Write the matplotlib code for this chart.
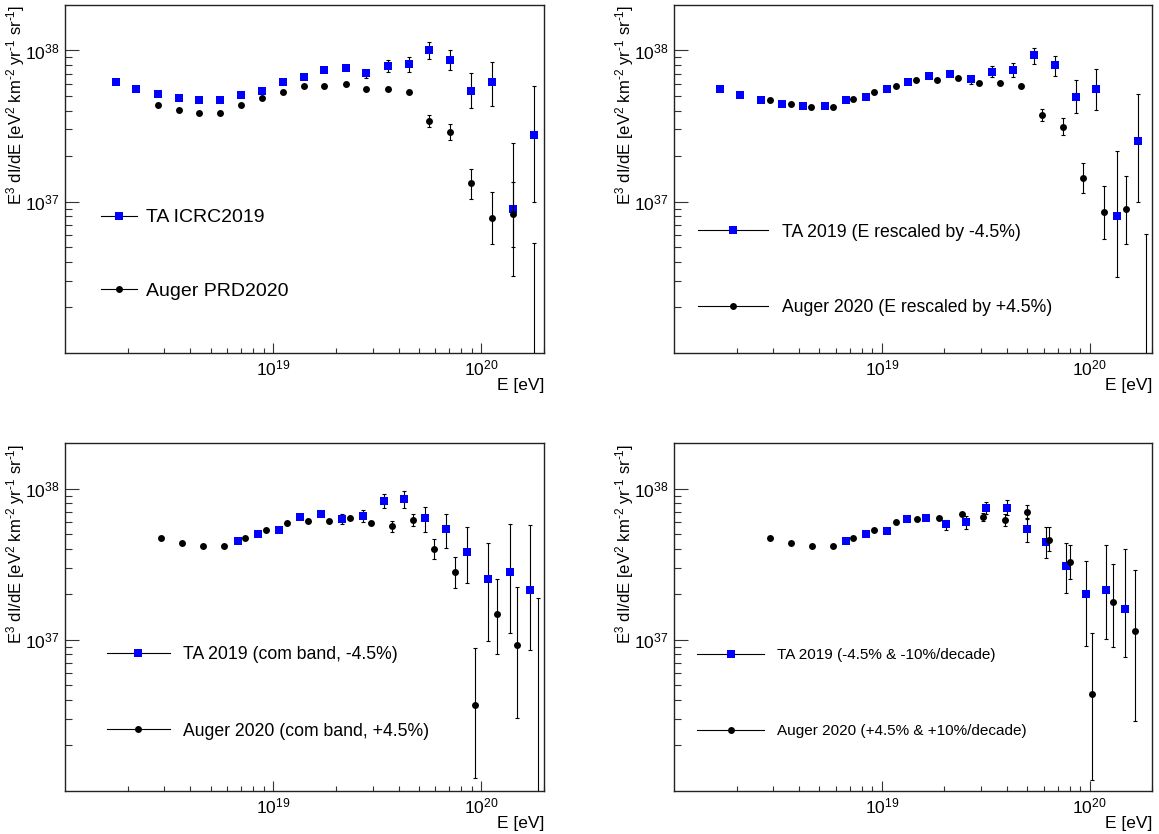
import matplotlib
matplotlib.use('Agg')
import matplotlib.pyplot as plt
from matplotlib.lines import Line2D
from matplotlib.ticker import FixedLocator, FuncFormatter, NullFormatter
import numpy as np

plt.rcParams['font.family'] = ['Liberation Sans', 'DejaVu Sans']
plt.rcParams['mathtext.fontset'] = 'custom'
plt.rcParams['mathtext.rm'] = 'Liberation Sans'
plt.rcParams['mathtext.it'] = 'Liberation Sans:italic'
plt.rcParams['mathtext.default'] = 'regular'

# ---- panel 1: TA ICRC2019 / Auger PRD2020 (E in eV, E^3 J in eV^2 km^-2 yr^-1 sr^-1) ----
ta1_E = [1.75e18, 2.20e18, 2.79e18, 3.52e18, 4.42e18, 5.56e18, 7.00e18, 8.83e18, 1.117e19, 1.406e19,
         1.762e19, 2.228e19, 2.805e19, 3.548e19, 4.467e19, 5.623e19, 7.079e19, 8.913e19, 1.127e20, 1.426e20, 1.795e20]
ta1_J = [6.14e37, 5.57e37, 5.16e37, 4.88e37, 4.71e37, 4.71e37, 5.08e37, 5.41e37, 6.14e37, 6.70e37,
         7.38e37, 7.61e37, 7.05e37, 7.91e37, 8.16e37, 1.01e38, 8.71e37, 5.41e37, 6.14e37, 8.9e36, 2.74e37]
ta1_lo = [6.14e37, 5.57e37, 5.16e37, 4.88e37, 4.71e37, 4.71e37, 5.08e37, 5.41e37, 6.14e37, 6.70e37,
          7.38e37, 7.61e37, 6.56e37, 7.26e37, 7.23e37, 8.81e37, 7.38e37, 4.15e37, 4.31e37, 4.99e36, 1.00e37]
ta1_hi = [6.14e37, 5.57e37, 5.16e37, 4.88e37, 4.71e37, 4.71e37, 5.08e37, 5.41e37, 6.14e37, 6.70e37,
          7.38e37, 7.61e37, 7.45e37, 8.59e37, 9.03e37, 1.135e38, 1.01e38, 7.08e37, 8.33e37, 1.34e37, 5.83e37]
au1_E = [2.79e18, 3.52e18, 4.42e18, 5.56e18, 7.00e18, 8.83e18, 1.117e19, 1.406e19, 1.762e19, 2.228e19,
         2.805e19, 3.548e19, 4.467e19, 5.623e19, 7.079e19, 8.913e19, 1.127e20, 1.426e20, 1.795e20]
au1_J = [4.35e37, 4.05e37, 3.83e37, 3.83e37, 4.35e37, 4.83e37, 5.35e37, 5.81e37, 5.81e37, 5.96e37,
         5.57e37, 5.57e37, 5.32e37, 3.44e37, 2.88e37, 1.32e37, 7.8e36, 8.3e36, 5.0e35]
au1_lo = [4.35e37, 4.05e37, 3.83e37, 3.83e37, 4.35e37, 4.83e37, 5.35e37, 5.81e37, 5.81e37, 5.96e37,
          5.57e37, 5.57e37, 5.32e37, 3.14e37, 2.54e37, 1.04e37, 5.25e36, 3.24e36, 1.0e35]
au1_hi = [4.35e37, 4.05e37, 3.83e37, 3.83e37, 4.35e37, 4.83e37, 5.35e37, 5.81e37, 5.81e37, 5.96e37,
          5.57e37, 5.57e37, 5.32e37, 3.75e37, 3.27e37, 1.64e37, 1.15e37, 2.43e37, 5.35e36]

# ---- panel 2: energy rescaled by -4.5% / +4.5% ----
ta2_E = [1.663e18, 2.089e18, 2.636e18, 3.319e18, 4.198e18, 5.309e18, 6.714e18, 8.375e18, 1.059e19, 1.334e19,
         1.687e19, 2.138e19, 2.692e19, 3.381e19, 4.266e19, 5.370e19, 6.792e19, 8.590e19, 1.076e20, 1.355e20, 1.714e20]
ta2_J = [5.57e37, 5.08e37, 4.71e37, 4.44e37, 4.31e37, 4.26e37, 4.67e37, 4.95e37, 5.57e37, 6.14e37,
         6.73e37, 6.94e37, 6.43e37, 7.26e37, 7.38e37, 9.27e37, 7.96e37, 4.95e37, 5.59e37, 8.08e36, 2.50e37]
ta2_lo = [5.57e37, 5.08e37, 4.71e37, 4.44e37, 4.31e37, 4.26e37, 4.67e37, 4.95e37, 5.57e37, 6.14e37,
          6.73e37, 6.94e37, 6.01e37, 6.66e37, 6.66e37, 8.16e37, 6.73e37, 3.83e37, 4.03e37, 3.18e36, 9.9e36]
ta2_hi = [5.57e37, 5.08e37, 4.71e37, 4.44e37, 4.31e37, 4.26e37, 4.67e37, 4.95e37, 5.57e37, 6.14e37,
          6.73e37, 6.94e37, 6.80e37, 7.91e37, 8.24e37, 1.036e38, 9.22e37, 6.40e37, 7.52e37, 2.15e37, 5.19e37]
au2_E = [2.891e18, 3.639e18, 4.581e18, 5.794e18, 7.295e18, 9.204e18, 1.164e19, 1.466e19, 1.845e19, 2.323e19,
         2.938e19, 3.698e19, 4.656e19, 5.888e19, 7.413e19, 9.333e19, 1.178e20, 1.489e20, 1.862e20]
au2_J = [4.73e37, 4.42e37, 4.20e37, 4.20e37, 4.75e37, 5.30e37, 5.86e37, 6.37e37, 6.37e37, 6.53e37,
         6.11e37, 6.11e37, 5.83e37, 3.75e37, 3.14e37, 1.44e37, 8.55e36, 9.0e36, 5.0e35]
au2_lo = [4.73e37, 4.42e37, 4.20e37, 4.20e37, 4.75e37, 5.30e37, 5.86e37, 6.37e37, 6.37e37, 6.53e37,
          6.11e37, 6.11e37, 5.83e37, 3.42e37, 2.76e37, 1.14e37, 5.64e36, 5.27e36, 1.0e35]
au2_hi = [4.73e37, 4.42e37, 4.20e37, 4.20e37, 4.75e37, 5.30e37, 5.86e37, 6.37e37, 6.37e37, 6.53e37,
          6.11e37, 6.11e37, 5.83e37, 4.11e37, 3.56e37, 1.81e37, 1.26e37, 1.47e37, 6.08e36]

# ---- panel 3: common band, -4.5% / +4.5% ----
ta3_E = [6.745e18, 8.492e18, 1.072e19, 1.340e19, 1.694e19, 2.133e19, 2.692e19, 3.404e19, 4.256e19, 5.370e19,
         6.792e19, 8.551e19, 1.076e20, 1.368e20, 1.706e20]
ta3_J = [4.50e37, 4.99e37, 5.30e37, 6.46e37, 6.80e37, 6.30e37, 6.59e37, 8.24e37, 8.55e37, 6.40e37,
         5.38e37, 3.79e37, 2.51e37, 2.79e37, 2.15e37]
ta3_lo = [4.50e37, 4.99e37, 5.30e37, 6.46e37, 6.80e37, 5.81e37, 6.01e37, 7.45e37, 7.41e37, 5.14e37,
          4.08e37, 2.37e37, 9.8e36, 1.11e37, 8.6e36]
ta3_hi = [4.50e37, 4.99e37, 5.30e37, 6.46e37, 6.80e37, 6.76e37, 7.26e37, 9.17e37, 9.66e37, 7.57e37,
          6.82e37, 5.55e37, 4.39e37, 5.81e37, 5.78e37]
au3_E = [2.897e18, 3.664e18, 4.613e18, 5.808e18, 7.345e18, 9.204e18, 1.164e19, 1.472e19, 1.854e19, 2.333e19,
         2.938e19, 3.715e19, 4.677e19, 5.902e19, 7.430e19, 9.354e19, 1.183e20, 1.489e20, 1.866e20]
au3_J = [4.73e37, 4.39e37, 4.17e37, 4.15e37, 4.69e37, 5.30e37, 5.96e37, 6.14e37, 6.12e37, 6.37e37,
         5.98e37, 5.64e37, 6.24e37, 4.01e37, 2.81e37, 3.72e36, 1.47e37, 9.3e36, 5.0e35]
au3_lo = [4.73e37, 4.39e37, 4.17e37, 4.15e37, 4.69e37, 5.30e37, 5.96e37, 6.14e37, 6.12e37, 6.37e37,
          5.98e37, 5.21e37, 5.64e37, 3.42e37, 2.21e37, 1.21e36, 8.07e36, 3.04e36, 1.0e35]
au3_hi = [4.73e37, 4.39e37, 4.17e37, 4.15e37, 4.69e37, 5.30e37, 5.96e37, 6.14e37, 6.12e37, 6.37e37,
          5.98e37, 6.11e37, 6.82e37, 4.67e37, 3.52e37, 8.85e36, 2.51e37, 2.22e37, 1.89e37]

# ---- panel 4: -4.5% & -10%/decade / +4.5% & +10%/decade ----
ta4_E = [6.714e18, 8.375e18, 1.059e19, 1.318e19, 1.631e19, 2.037e19, 2.541e19, 3.177e19, 3.981e19, 4.966e19,
         6.131e19, 7.656e19, 9.550e19, 1.199e20, 1.483e20]
ta4_J = [4.50e37, 4.99e37, 5.25e37, 6.27e37, 6.40e37, 5.81e37, 6.01e37, 7.48e37, 7.48e37, 5.38e37,
         4.42e37, 3.10e37, 2.00e37, 2.15e37, 1.61e37]
ta4_lo = [4.50e37, 4.99e37, 5.25e37, 6.27e37, 6.40e37, 5.35e37, 5.38e37, 6.82e37, 6.66e37, 4.44e37,
          3.48e37, 2.04e37, 9.1e36, 1.01e37, 7.7e36]
ta4_hi = [4.50e37, 4.99e37, 5.25e37, 6.27e37, 6.40e37, 6.17e37, 6.56e37, 8.16e37, 8.37e37, 6.43e37,
          5.57e37, 4.36e37, 3.30e37, 4.26e37, 4.01e37]
au4_E = [2.891e18, 3.639e18, 4.603e18, 5.794e18, 7.295e18, 9.204e18, 1.164e19, 1.483e19, 1.892e19, 2.421e19,
         3.073e19, 3.899e19, 4.966e19, 6.339e19, 8.035e19, 1.021e20, 1.300e20, 1.652e20]
au4_J = [4.73e37, 4.36e37, 4.17e37, 4.15e37, 4.69e37, 5.30e37, 6.04e37, 6.30e37, 6.40e37, 6.80e37,
         6.53e37, 6.24e37, 7.05e37, 4.59e37, 3.29e37, 4.39e36, 1.77e37, 1.15e37]
au4_lo = [4.73e37, 4.36e37, 4.17e37, 4.15e37, 4.69e37, 5.30e37, 6.04e37, 6.30e37, 6.40e37, 6.80e37,
          6.11e37, 5.69e37, 6.32e37, 3.86e37, 2.52e37, 1.17e36, 8.93e36, 2.89e36]
au4_hi = [4.73e37, 4.36e37, 4.17e37, 4.15e37, 4.69e37, 5.30e37, 6.04e37, 6.30e37, 6.40e37, 6.80e37,
          6.90e37, 6.82e37, 7.87e37, 5.57e37, 4.22e37, 1.11e37, 3.18e37, 2.91e37]

labels1 = ['TA ICRC2019', 'Auger PRD2020']
labels2 = ['TA 2019 (E rescaled by -4.5%)', 'Auger 2020 (E rescaled by +4.5%)']
labels3 = ['TA 2019 (com band, -4.5%)', 'Auger 2020 (com band, +4.5%)']
labels4 = ['TA 2019 (-4.5% & -10%/decade)', 'Auger 2020 (+4.5% & +10%/decade)']

# short hyphen (U+2010) in the exponents, as in the ROOT label
ylabel = 'E$^{3}$ dI/dE [eV$^{2}$ km$^{\u20102}$ yr$^{\u20101}$ sr$^{\u20101}$]'


def draw_panel(ax, ta, au, labels, leg):
    # ta / au: (E, J, lo, hi)
    for k, (data, mk, col, ms) in enumerate([(ta, 's', 'blue', 5.5), (au, 'o', 'black', 5)]):
        E, J, lo, hi = [np.array(v) for v in data]
        ax.errorbar(E, J, yerr=[J - lo, hi - J], fmt='none', ecolor='black', elinewidth=0.8,
                    capsize=1.2, capthick=0.8, zorder=2 + 2 * k)
        ax.plot(E, J, mk, color=col, ms=ms, mew=0, zorder=3 + 2 * k)

    ax.set_xscale('log')
    ax.set_yscale('log')
    ax.set_xlim(1e18, 2e20)
    ax.set_ylim(1e36, 2e38)

    fmt = FuncFormatter(lambda v, p: r'$10^{%d}$' % round(np.log10(v)))
    ax.xaxis.set_major_locator(FixedLocator([1e19, 1e20]))
    ax.xaxis.set_minor_locator(FixedLocator([k * 10.0 ** d for d in (18, 19) for k in range(2, 10)] + [2e20]))
    ax.yaxis.set_major_locator(FixedLocator([1e37, 1e38]))
    ax.yaxis.set_minor_locator(FixedLocator([k * 10.0 ** d for d in (36, 37) for k in range(2, 10)]))
    ax.xaxis.set_major_formatter(fmt)
    ax.yaxis.set_major_formatter(fmt)
    ax.xaxis.set_minor_formatter(NullFormatter())
    ax.yaxis.set_minor_formatter(NullFormatter())

    ax.tick_params(which='both', direction='in', top=False, right=False, color='#333333')
    ax.tick_params(axis='x', which='major', length=7.2, width=0.8, pad=4.5, labelsize=12.5)
    ax.tick_params(axis='x', which='minor', length=3.6, width=0.8)
    ax.tick_params(axis='y', which='major', length=10.3, width=0.8, pad=4, labelsize=12.5)
    ax.tick_params(axis='y', which='minor', length=5.2, width=0.8)
    for s in ax.spines.values():
        s.set_linewidth(1.0)
        s.set_color('#222222')

    ax.set_xlabel('E [eV]', fontsize=12.5, loc='right')
    ax.xaxis.set_label_coords(1.0, -0.094)
    ax.xaxis.label.set_va('center')
    ax.set_ylabel(ylabel, fontsize=12, loc='top')
    ax.yaxis.set_label_coords(-0.103, 1.0)
    ax.yaxis.label.set_va('center')

    handles = [Line2D([], [], color='black', lw=0.8, marker='s', ms=5.5, mfc='blue', mec='blue', mew=0),
               Line2D([], [], color='black', lw=0.8, marker='o', ms=5, mfc='black', mec='black', mew=0)]
    x0, ymid, fs, ls, hl, hp = leg
    ax.legend(handles, labels, loc='center left', bbox_to_anchor=(x0, ymid), frameon=False,
              fontsize=fs, labelspacing=ls, handlelength=hl, handletextpad=hp,
              borderpad=0, borderaxespad=0)


fig = plt.figure(figsize=(11.59, 8.34), dpi=100)
ax1 = fig.add_axes([0.0561, 0.5771, 0.4133, 0.4169])
ax2 = fig.add_axes([0.5815, 0.5771, 0.4127, 0.4169])
ax3 = fig.add_axes([0.0561, 0.0519, 0.4133, 0.4165])
ax4 = fig.add_axes([0.5815, 0.0519, 0.4127, 0.4165])

draw_panel(ax1, (ta1_E, ta1_J, ta1_lo, ta1_hi), (au1_E, au1_J, au1_lo, au1_hi), labels1,
           (0.0758, 0.2823, 14, 2.89, 1.86, 0.42))
draw_panel(ax2, (ta2_E, ta2_J, ta2_lo, ta2_hi), (au2_E, au2_J, au2_lo, au2_hi), labels2,
           (0.0506, 0.2379, 12.7, 3.34, 3.96, 0.80))
draw_panel(ax3, (ta3_E, ta3_J, ta3_lo, ta3_hi), (au3_E, au3_J, au3_lo, au3_hi), labels3,
           (0.0877, 0.2813, 12.7, 3.36, 3.56, 0.74))
draw_panel(ax4, (ta4_E, ta4_J, ta4_lo, ta4_hi), (au4_E, au4_J, au4_lo, au4_hi), labels4,
           (0.0489, 0.2813, 11, 4.06, 4.34, 0.90))

fig.savefig('out.png', dpi=100)
